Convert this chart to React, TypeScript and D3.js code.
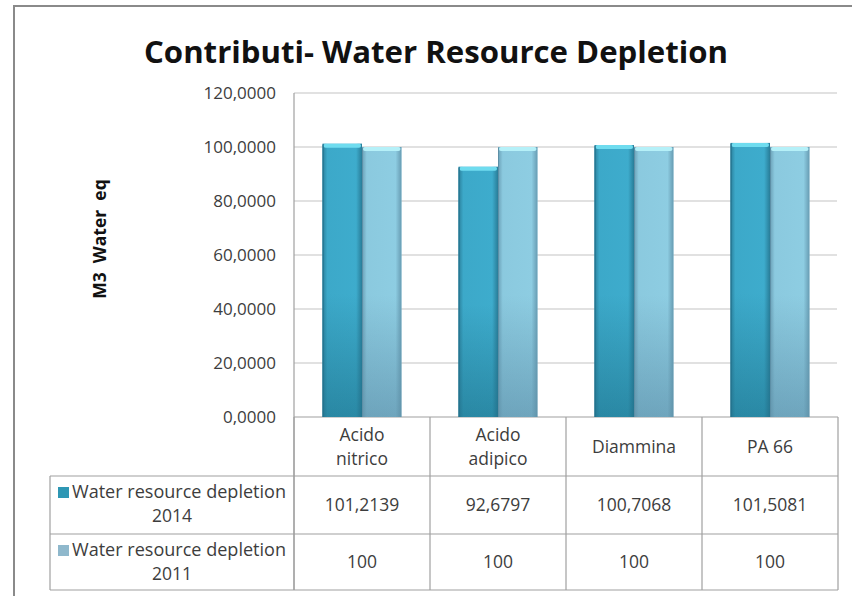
import React from "react";
import * as d3 from "d3";

const categories = [["Acido", "nitrico"], ["Acido", "adipico"], ["Diammina"], ["PA 66"]];
const seriesNames = ["Water resource depletion 2014", "Water resource depletion 2011"];
const values2014 = [101.2139, 92.6797, 100.7068, 101.5081];
const values2011 = [100, 100, 100, 100];
const labels2014 = ["101,2139", "92,6797", "100,7068", "101,5081"];
const labels2011 = ["100", "100", "100", "100"];
const yTicks = [0, 20, 40, 60, 80, 100, 120];
const title = "Contributi- Water Resource Depletion";
const yLabel = "M3  Water  eq";

const W = 852, H = 596;
const plotL = 294, plotR = 837, plotT = 93, plotB = 417;
const tableL = 50;
const rowY = [417, 476, 534, 590];
const font = "'Open Sans', 'DejaVu Sans', sans-serif";
const txt = "#3d3d3d";

export default function App() {
  const y = d3.scaleLinear().domain([0, 120]).range([plotB, plotT]);
  const x = d3.scaleBand<number>().domain(d3.range(categories.length)).range([plotL, plotR + 1]).padding(0);
  const bw = x.bandwidth();
  const inner = d3.scaleBand<number>().domain([0, 1]).range([bw * 0.21, bw * 0.79]).padding(0);
  const series = [values2014, values2011];
  const colors = [
    { top: "#3FAFD0", bot: "#2A8AA6", edge: "#23708A", cap: "#6FDCEF" },
    { top: "#90D0E5", bot: "#6FA6BE", edge: "#5D8FA6", cap: "#B5F0F8" },
  ];
  const colEdges = d3.range(categories.length + 1).map((i) => (i === categories.length ? plotR + 1 : x(i)!));
  const fmt = (v: number) => d3.format(".4f")(v).replace(".", ",");

  return (
    <svg width={W} height={H} style={{ position: "absolute", left: 0, top: 0, background: "#fff" }}>
      <defs>
        {colors.map((c, i) => (
          <linearGradient key={"v" + i} id={"gv" + i} x1="0" y1="0" x2="0" y2="1">
            <stop offset="0" stopColor={c.top} />
            <stop offset="0.55" stopColor={c.top} />
            <stop offset="1" stopColor={c.bot} />
          </linearGradient>
        ))}
        {colors.map((c, i) => (
          <linearGradient key={"h" + i} id={"gh" + i} x1="0" y1="0" x2="1" y2="0">
            <stop offset="0" stopColor={c.edge} stopOpacity={0.75} />
            <stop offset="0.12" stopColor={c.edge} stopOpacity={0.1} />
            <stop offset="0.85" stopColor={c.edge} stopOpacity={0.05} />
            <stop offset="1" stopColor={c.edge} stopOpacity={0.8} />
          </linearGradient>
        ))}
      </defs>
      <rect x={0} y={0} width={W} height={H} fill="#fff" />
      {/* frame */}
      <rect x={14} y={6} width={W + 10} height={H + 10} fill="none" stroke="#8a8a8a" strokeWidth={2} />

      {/* title */}
      <text x={436} y={63} textAnchor="middle" fontFamily={font} fontWeight={700} fontSize={31}
        textLength={584} lengthAdjust="spacingAndGlyphs" fill="#111">{title}</text>

      {/* y label */}
      <text transform={`translate(106,239) rotate(-90)`} textAnchor="middle" fontFamily={font}
        fontWeight={700} fontSize={17.5} fill="#111" style={{ whiteSpace: "pre" }}>{yLabel}</text>

      {/* gridlines */}
      {yTicks.map((t) => (
        <g key={t}>
          {t > 0 && <line x1={plotL} x2={plotR} y1={y(t)} y2={y(t)} stroke="#c4c4c4" strokeWidth={1.2} />}
          <text x={276} y={y(t) + 6} textAnchor="end" fontFamily={font} fontSize={17} fill={txt}>
            {fmt(t)}
          </text>
        </g>
      ))}
      <line x1={plotL} x2={plotL} y1={plotT} y2={rowY[3]} stroke="#a0a0a0" strokeWidth={1.2} />
      <line x1={plotL} x2={plotR + 1} y1={plotB} y2={plotB} stroke="#a0a0a0" strokeWidth={1.2} />

      {/* bars */}
      {series.map((vals, s) =>
        vals.map((v, i) => {
          const bx = x(i)! + inner(s)!;
          const w = inner.bandwidth();
          const by = y(v);
          const h = plotB - by;
          return (
            <g key={s + "-" + i}>
              <rect x={bx} y={by} width={w} height={h} fill={`url(#gv${s})`} />
              <rect x={bx} y={by} width={w} height={h} fill={`url(#gh${s})`} />
              <rect x={bx + 1} y={by} width={w - 2} height={4} rx={2} fill={colors[s].cap} />
              <line x1={bx + 0.5} x2={bx + 0.5} y1={by + 1} y2={plotB} stroke={colors[s].edge} strokeWidth={1} />
            </g>
          );
        })
      )}

      {/* data table */}
      {colEdges.map((cx, i) => (
        <line key={"cv" + i} x1={cx} x2={cx} y1={plotB} y2={rowY[3]} stroke="#a0a0a0" strokeWidth={1.2} />
      ))}
      <line x1={tableL} x2={tableL} y1={rowY[1]} y2={rowY[3]} stroke="#a0a0a0" strokeWidth={1.2} />
      {[rowY[1], rowY[2], rowY[3]].map((ry, i) => (
        <line key={"rh" + i} x1={tableL} x2={plotR + 1} y1={ry} y2={ry} stroke="#a0a0a0" strokeWidth={1.2} />
      ))}

      {categories.map((lines, i) => {
        const cx = x(i)! + bw / 2;
        const cy = (rowY[0] + rowY[1]) / 2;
        return (
          <text key={"cat" + i} textAnchor="middle" fontFamily={font} fontSize={17.5} fill={txt}>
            {lines.map((l, k) => (
              <tspan key={k} x={cx} y={cy + 6 + (k - (lines.length - 1) / 2) * 24}>{l}</tspan>
            ))}
          </text>
        );
      })}

      {[labels2014, labels2011].map((labs, s) =>
        labs.map((l, i) => (
          <text key={"val" + s + i} x={x(i)! + bw / 2} y={(rowY[s + 1] + rowY[s + 2]) / 2 + 6}
            textAnchor="middle" fontFamily={font} fontSize={17.5} fill={txt}>{l}</text>
        ))
      )}

      {seriesNames.map((name, s) => {
        const parts = name.split(" ");
        const year = parts.pop();
        const top = rowY[s + 1];
        return (
          <g key={"leg" + s}>
            <rect x={58} y={top + 11} width={11} height={11} fill={s === 0 ? "#2E97B4" : "#8FB8CC"} />
            <text x={72} y={top + 22} fontFamily={font} fontSize={17.5} fill={txt}
              textLength={214} lengthAdjust="spacingAndGlyphs">{parts.join(" ")}</text>
            <text x={172} y={top + 46} textAnchor="middle" fontFamily={font} fontSize={17.5} fill={txt}>{year}</text>
          </g>
        );
      })}
    </svg>
  );
}
